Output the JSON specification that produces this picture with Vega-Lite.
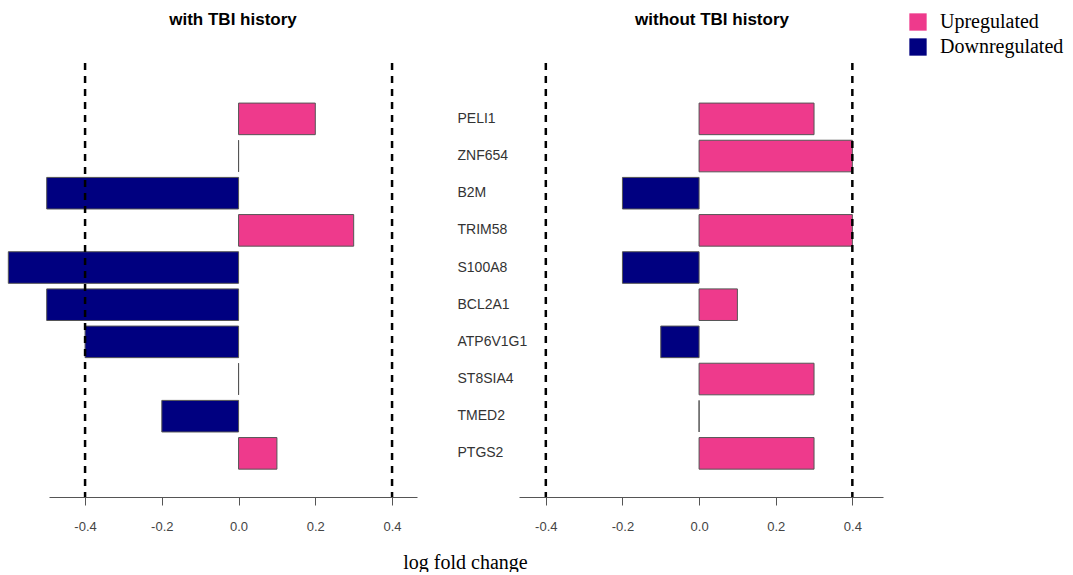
{
  "$schema": "https://vega.github.io/schema/vega-lite/v6.json",
  "background": "white",
  "padding": {"left": 7, "top": 10, "right": 5, "bottom": 0},
  "datasets": {
    "with": [
      {"gene": "PELI1", "value": 0.2, "direction": "Upregulated"},
      {"gene": "ZNF654", "value": 0.0, "direction": "Upregulated"},
      {"gene": "B2M", "value": -0.5, "direction": "Downregulated"},
      {"gene": "TRIM58", "value": 0.3, "direction": "Upregulated"},
      {"gene": "S100A8", "value": -0.6, "direction": "Downregulated"},
      {"gene": "BCL2A1", "value": -0.5, "direction": "Downregulated"},
      {"gene": "ATP6V1G1", "value": -0.4, "direction": "Downregulated"},
      {"gene": "ST8SIA4", "value": 0.0, "direction": "Upregulated"},
      {"gene": "TMED2", "value": -0.2, "direction": "Downregulated"},
      {"gene": "PTGS2", "value": 0.1, "direction": "Upregulated"}
    ],
    "without": [
      {"gene": "PELI1", "value": 0.3, "direction": "Upregulated"},
      {"gene": "ZNF654", "value": 0.4, "direction": "Upregulated"},
      {"gene": "B2M", "value": -0.2, "direction": "Downregulated"},
      {"gene": "TRIM58", "value": 0.4, "direction": "Upregulated"},
      {"gene": "S100A8", "value": -0.2, "direction": "Downregulated"},
      {"gene": "BCL2A1", "value": 0.1, "direction": "Upregulated"},
      {"gene": "ATP6V1G1", "value": -0.1, "direction": "Downregulated"},
      {"gene": "ST8SIA4", "value": 0.3, "direction": "Upregulated"},
      {"gene": "TMED2", "value": 0.0, "direction": "Upregulated"},
      {"gene": "PTGS2", "value": 0.3, "direction": "Upregulated"}
    ],
    "cutoffs": [{"v": -0.4}, {"v": 0.4}]
  },
  "spacing": 102,
  "bounds": "flush",
  "hconcat": [
    {
      "width": 368,
      "height": 434,
      "title": {"text": "with TBI history", "font": "Liberation Sans", "fontSize": 17, "fontWeight": "bold", "color": "black", "anchor": "middle", "baseline": "alphabetic", "offset": 20},
      "layer": [
        {
          "data": {"name": "with"},
          "mark": {"type": "bar", "stroke": "#555555", "strokeWidth": 1, "clip": false},
          "encoding": {
            "y": {"field": "gene", "type": "nominal", "sort": ["PELI1", "ZNF654", "B2M", "TRIM58", "S100A8", "BCL2A1", "ATP6V1G1", "ST8SIA4", "TMED2", "PTGS2"],
                  "scale": {"paddingInner": 0.15, "paddingOuter": 0.914, "align": 0.59}, "axis": null},
            "x": {"field": "value", "type": "quantitative", "scale": {"domain": [-0.494, 0.465], "nice": false, "zero": false},
                  "axis": {"values": [-0.4, -0.2, 0, 0.2, 0.4], "format": ".1f", "labelExpr": "replace(datum.label, '−', '-')", "title": null, "grid": false, "tickSize": 8, "labelPadding": 15, "labelFont": "Liberation Sans", "labelFontSize": 13, "labelColor": "#444444", "domainColor": "#555555", "tickColor": "#555555", "labelFlush": false}},
            "x2": {"datum": 0},
            "color": {"field": "direction", "type": "nominal", "scale": {"domain": ["Upregulated", "Downregulated"], "range": ["#EE3A8C", "#000080"]},
                      "legend": {"title": null, "orient": "none", "legendX": 859, "legendY": -51, "symbolType": "square", "symbolSize": 300, "symbolStrokeWidth": 0, "symbolOpacity": 1, "labelFont": "Liberation Serif", "labelFontSize": 20, "labelColor": "black", "rowPadding": 5, "labelOffset": 12}}
          }
        },
        {
          "data": {"name": "cutoffs"},
          "mark": {"type": "rule", "strokeDash": [7, 6], "strokeWidth": 2.5, "color": "black"},
          "encoding": {"x": {"field": "v", "type": "quantitative"}}
        }
      ]
    },
    {
      "width": 364,
      "height": 434,
      "title": {"text": "without TBI history", "font": "Liberation Sans", "fontSize": 17, "fontWeight": "bold", "color": "black", "anchor": "middle", "baseline": "alphabetic", "offset": 20, "dx": 11},
      "layer": [
        {
          "data": {"name": "without"},
          "mark": {"type": "bar", "stroke": "#555555", "strokeWidth": 1, "clip": false},
          "encoding": {
            "y": {"field": "gene", "type": "nominal", "sort": ["PELI1", "ZNF654", "B2M", "TRIM58", "S100A8", "BCL2A1", "ATP6V1G1", "ST8SIA4", "TMED2", "PTGS2"],
                  "scale": {"paddingInner": 0.15, "paddingOuter": 0.914, "align": 0.59},
                  "axis": {"title": null, "ticks": false, "domain": false, "tickSize": 0, "labelAlign": "left", "labelPadding": 62, "labelFont": "Liberation Sans", "labelFontSize": 14, "labelColor": "#333333"}},
            "x": {"field": "value", "type": "quantitative", "scale": {"domain": [-0.47, 0.48], "nice": false, "zero": false},
                  "axis": {"values": [-0.4, -0.2, 0, 0.2, 0.4], "format": ".1f", "labelExpr": "replace(datum.label, '−', '-')", "grid": false, "tickSize": 8, "labelPadding": 15, "labelFont": "Liberation Sans", "labelFontSize": 13, "labelColor": "#444444", "domainColor": "#555555", "tickColor": "#555555", "labelFlush": false,
                           "title": "log fold change", "titleFont": "Liberation Serif", "titleFontSize": 20, "titleFontWeight": "normal", "titleColor": "black", "titleAnchor": null, "titleAlign": "center", "titleBaseline": "alphabetic", "titleX": -54, "titleY": 71}},
            "x2": {"datum": 0},
            "color": {"field": "direction", "type": "nominal", "scale": {"domain": ["Upregulated", "Downregulated"], "range": ["#EE3A8C", "#000080"]},
                      "legend": {"title": null, "orient": "none", "legendX": 859, "legendY": -51, "symbolType": "square", "symbolSize": 300, "symbolStrokeWidth": 0, "symbolOpacity": 1, "labelFont": "Liberation Serif", "labelFontSize": 20, "labelColor": "black", "rowPadding": 5, "labelOffset": 12}}
          }
        },
        {
          "data": {"name": "cutoffs"},
          "mark": {"type": "rule", "strokeDash": [7, 6], "strokeWidth": 2.5, "color": "black"},
          "encoding": {"x": {"field": "v", "type": "quantitative"}}
        }
      ]
    }
  ],
  "config": {"view": {"stroke": null}, "font": "Liberation Sans"}
}
